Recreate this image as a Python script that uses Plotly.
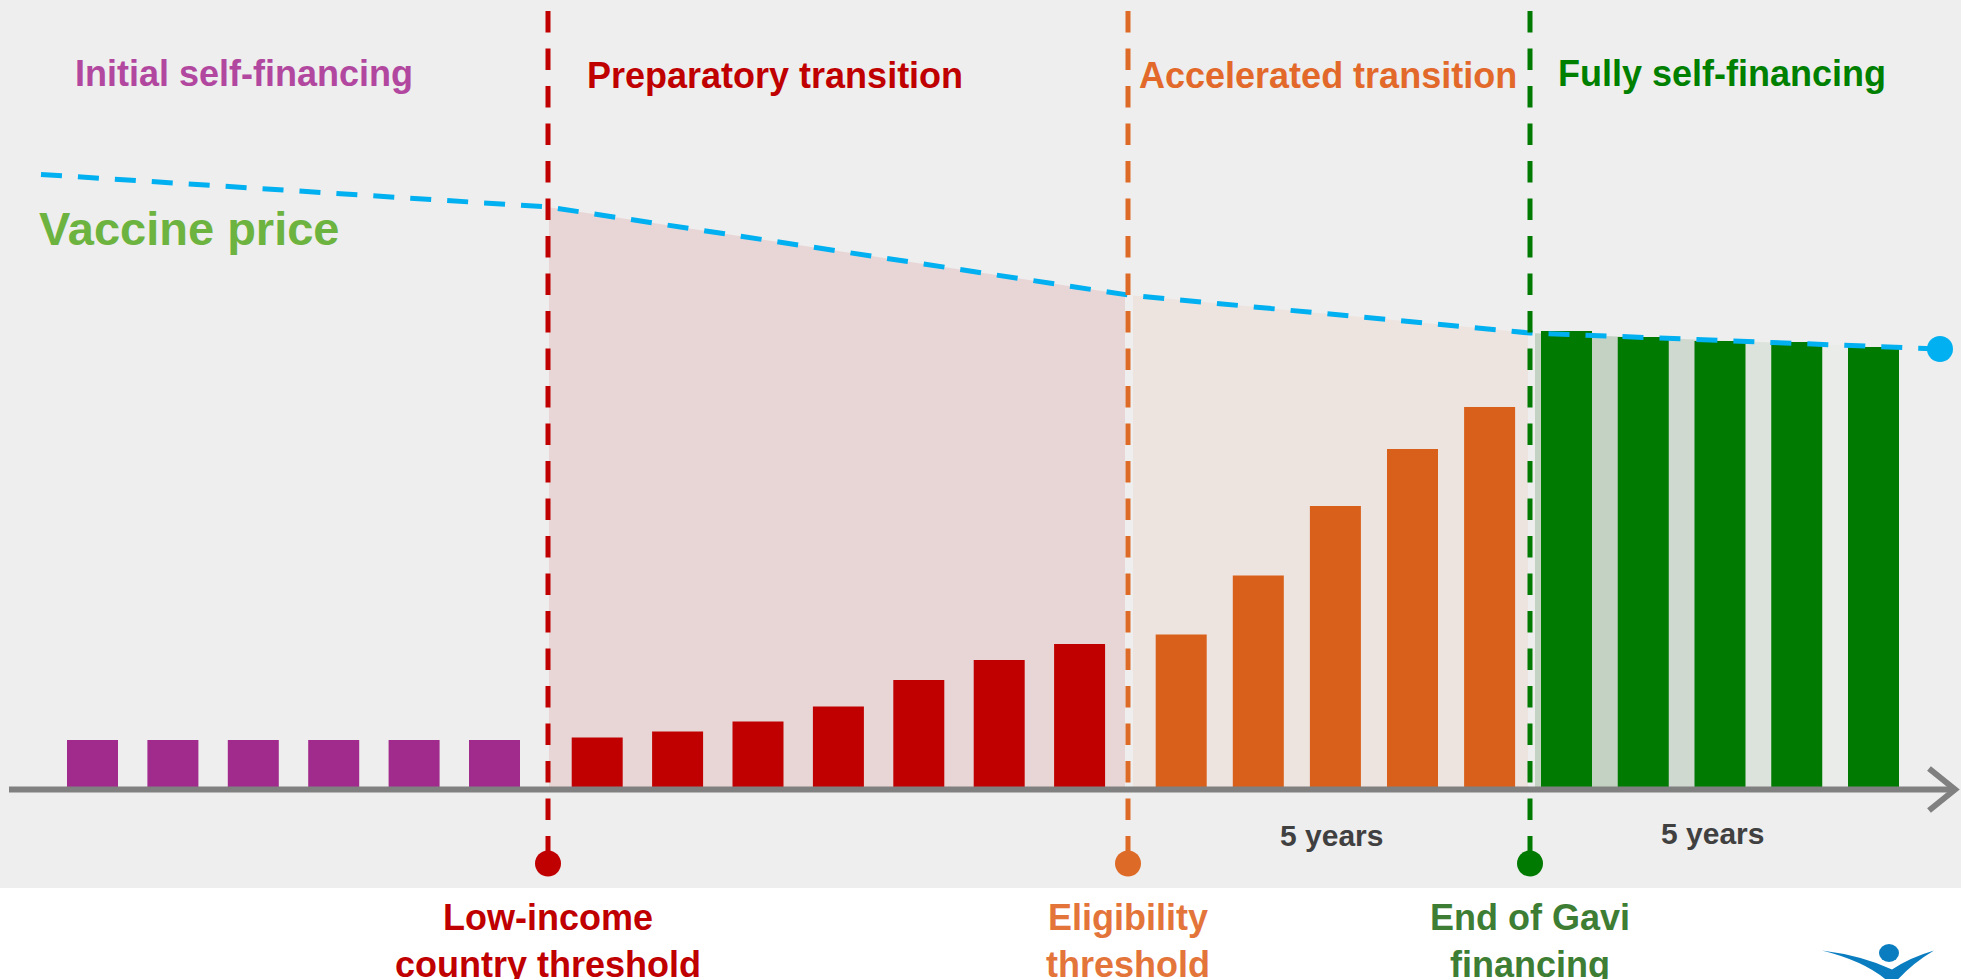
import numpy as np
import plotly.graph_objects as go

# ---- data (heights in slide units above the time axis) ----
phase_names = ["Initial self-financing", "Preparatory transition",
               "Accelerated transition", "Fully self-financing"]
initial_costs = [49.5, 49.5, 49.5, 49.5, 49.5, 49.5]
preparatory_costs = [52, 58, 68, 83, 109.5, 129.5, 145.5]
accelerated_costs = [155, 214, 283.5, 340.5, 382.5]
fully_costs = [458.5, 452.5, 448.5, 447.5, 442.5]
vaccine_price = [615, 582.5, 494.5, 456.5, 440.5]   # start, 3 thresholds, end
threshold_labels = ["Low-income<br>country threshold", "Eligibility<br>threshold",
                    "End of Gavi<br>financing"]
period_labels = ["5 years", "5 years"]

# ---- styling / layout geometry ----
W, H = 1961, 979
Y0 = 789.5                     # axis line, in px from top
bar_colors = ["#A02B8C", "#C00000", "#D9601A", "#007A00"]
title_colors = ["#B2479F", "#C00000", "#E2692A", "#008000"]
thr_colors = ["#C00000", "#DD6A26", "#007A00"]
thr_label_colors = ["#C00000", "#E4753A", "#3D7D34"]
first_bar = [92.5, 597.2, 1181.2, 1566.5]
bar_step = [80.4, 80.4, 77.1, 76.75]
bar_w = 51
thr_x = [548, 1128, 1530]
price_x = [41] + thr_x + [1940]
FONT = "Liberation Sans, Arial, sans-serif"


def v(px_y):
    return Y0 - px_y


def price_at(x):
    return float(np.interp(x, price_x, vaccine_price))


shapes = [
    dict(type="rect", xref="paper", yref="y", x0=0, x1=1, y0=v(888), y1=v(H + 5),
         fillcolor="white", line_width=0, layer="below"),
]


# shaded areas under the price line
def area(x0, x1, color):
    shapes.append(dict(
        type="path", xref="x", yref="y", layer="below", line_width=0,
        fillcolor=color,
        path="M %g,0 L %g,%g L %g,%g L %g,0 Z" % (x0, x0, price_at(x0), x1,
                                                 price_at(x1), x1)))


area(thr_x[0] + 1, thr_x[1] - 3, "#E8D6D7")
area(thr_x[1] + 5, thr_x[2] - 2, "#EDE3DF")

series = [initial_costs, preparatory_costs, accelerated_costs, fully_costs]
centers = [[first_bar[i] + k * bar_step[i] for k in range(len(s))]
           for i, s in enumerate(series)]

gap_cols = ["#C3D2C3", "#C3D2C3", "#CFD9D0", "#DCE3DC", "#EAECEA"]
edges = [thr_x[2] + 5] + centers[3]
for i in range(len(gap_cols)):
    area(edges[i], edges[i + 1], gap_cols[i])

fig = go.Figure()
for s, c, col in zip(series, centers, bar_colors):
    fig.add_trace(go.Bar(x=c, y=s, width=bar_w, marker_color=col,
                         marker_line_width=0))

# vaccine price
fig.add_trace(go.Scatter(x=price_x, y=vaccine_price, mode="lines",
                         line=dict(color="#00B0F0", width=5, dash="21px,16px")))
fig.add_trace(go.Scatter(x=[price_x[-1]], y=[vaccine_price[-1]], mode="markers",
                         marker=dict(color="#00B0F0", size=26)))

# threshold dots
fig.add_trace(go.Scatter(x=thr_x, y=[v(863.5)] * 3, mode="markers",
                         marker=dict(color=thr_colors, size=26)))

shapes += [
    dict(type="line", xref="x", yref="y", x0=9, x1=1954, y0=0, y1=0,
         line=dict(color="#808080", width=6), layer="above"),
    dict(type="path", xref="x", yref="y",
         path="M 1929,21 L 1955,0 L 1929,-21",
         line=dict(color="#808080", width=6), layer="above"),
]
for x, col in zip(thr_x, thr_colors):
    shapes.append(dict(type="line", xref="x", yref="y", x0=x, x1=x,
                       y0=v(11), y1=v(852),
                       line=dict(color=col, width=5, dash="21.5px,16px"),
                       layer="above"))
# logo
shapes.append(dict(type="circle", xref="x", yref="y", x0=1879, x1=1899,
                   y0=v(944), y1=v(962), fillcolor="#0A7DC0", line_width=0))
shapes.append(dict(type="path", xref="x", yref="y",
                   path="M 1822,-161 Q 1866,-172 1888,-192 L 1896,-192 "
                        "Q 1912,-174 1934,-161 Q 1910,-168 1892,-180 "
                        "Q 1862,-166 1822,-161 Z",
                   fillcolor="#0A7DC0", line_width=0))

ann = []
title_pos = [(244, 73), (775, 75), (1328, 75), (1722, 73)]
for name, col, (x, y) in zip(phase_names, title_colors, title_pos):
    ann.append(dict(x=x, y=v(y), text="<b>%s</b>" % name, showarrow=False,
                    font=dict(family=FONT, size=36, color=col)))
ann.append(dict(x=37, y=v(228), text="<b>Vaccine price</b>", showarrow=False,
                xanchor="left", font=dict(family=FONT, size=47, color="#6DB33F")))
for lab, x, y in zip(period_labels, [1331, 1712], [835, 833]):
    ann.append(dict(x=x, y=v(y), text="<b>%s</b>" % lab, showarrow=False,
                    font=dict(family=FONT, size=30, color="#404040")))
for lab, x, col in zip(threshold_labels, thr_x, thr_label_colors):
    ann.append(dict(x=x, y=v(941), text="<b>%s</b>" % lab, showarrow=False,
                    font=dict(family=FONT, size=36, color=col)))

fig.update_layout(
    width=W, height=H, margin=dict(l=0, r=0, t=0, b=0),
    paper_bgcolor="#EEEEEE", plot_bgcolor="rgba(0,0,0,0)",
    showlegend=False, barmode="overlay",
    xaxis=dict(range=[0, W], visible=False, fixedrange=True),
    yaxis=dict(range=[v(H), v(0)], visible=False, fixedrange=True),
    shapes=shapes, annotations=ann,
)

fig.write_html("out.html", config={"displayModeBar": False},
               post_script="document.body.style.margin='0';")
